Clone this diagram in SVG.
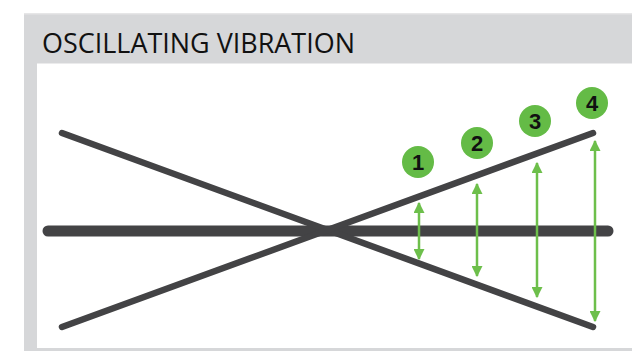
<svg xmlns="http://www.w3.org/2000/svg" width="632" height="351" viewBox="0 0 632 351">
<defs>
<style>
.bar{stroke:#434345;stroke-linecap:round;fill:none}
.arr{stroke:#6dbf4b;stroke-width:2.5;fill:none;marker-start:url(#ah);marker-end:url(#ah)}
.badge circle{fill:#64bb46}
.badge text{font-family:"Liberation Sans",Arial,sans-serif;font-weight:bold;font-size:22px;fill:#111;text-anchor:middle}
</style>
<marker id="ah" viewBox="0 0 10 10" refX="9" refY="5" markerWidth="4.4" markerHeight="4.4" orient="auto-start-reverse" markerUnits="strokeWidth">
<path d="M0,0 L10,5 L0,10 Z" fill="#6dbf4b"/>
</marker>
</defs>
<rect width="632" height="351" fill="#ffffff"/>
<g id="panel">
<rect x="24" y="13" width="608" height="338" fill="#d6d7d9"/>
<rect x="24" y="13" width="608" height="1.5" fill="#e6e6e7"/>
<rect x="37" y="63.5" width="595" height="284.5" fill="#ffffff"/>
<text x="42" y="53" font-family="'Open Sans','Liberation Sans',sans-serif" font-size="27" fill="#111" textLength="313" lengthAdjust="spacingAndGlyphs">OSCILLATING VIBRATION</text>
</g>
<g id="lines">
<line class="bar" x1="48" y1="231" x2="608" y2="231" stroke-width="11"/>
<line class="bar" x1="62" y1="133" x2="593" y2="327" stroke-width="6.5"/>
<line class="bar" x1="62" y1="327" x2="593" y2="133" stroke-width="6.5"/>
</g>
<g id="connectors">
<line class="arr" x1="419" y1="203" x2="419" y2="259"/>
<line class="arr" x1="477" y1="184" x2="477" y2="276"/>
<line class="arr" x1="537" y1="163" x2="537" y2="297"/>
<line class="arr" x1="595" y1="141" x2="595" y2="321"/>
</g>
<g id="badge1" class="badge"><circle cx="418" cy="162" r="16"/><text x="418" y="170">1</text></g>
<g id="badge2" class="badge"><circle cx="477" cy="143" r="16"/><text x="477" y="151">2</text></g>
<g id="badge3" class="badge"><circle cx="535" cy="121" r="16"/><text x="535" y="129">3</text></g>
<g id="badge4" class="badge"><circle cx="592" cy="103" r="16"/><text x="592" y="111">4</text></g>
</svg>
